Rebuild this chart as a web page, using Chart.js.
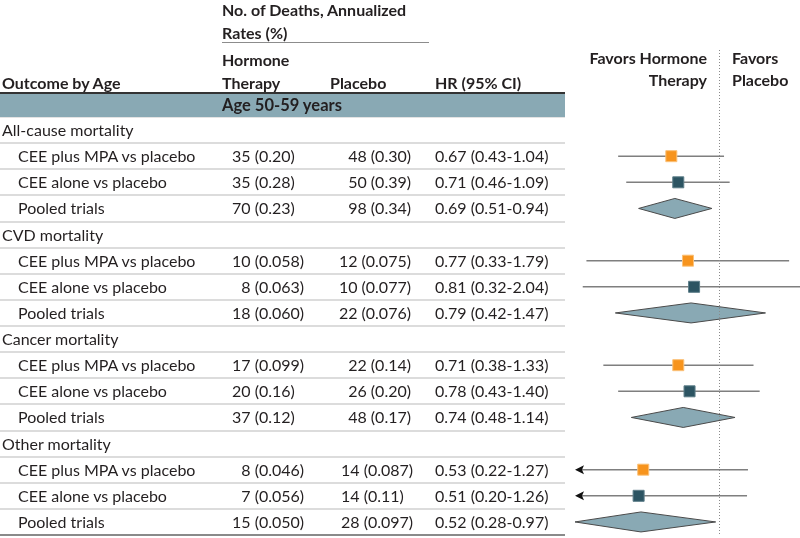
<!DOCTYPE html>
<html>
<head>
<meta charset="utf-8">
<script src="https://cdn.jsdelivr.net/npm/chart.js@4.4.0/dist/chart.umd.min.js"></script>
<style>
  html, body { margin: 0; padding: 0; background: #fff; overflow: hidden; }
  #wrap { position: relative; width: 800px; height: 538px; font-family: 'Lato', 'Noto Sans', sans-serif; color: #231f20; font-size: 16px; }
  #wrap canvas { position: absolute; left: 0; top: 0; }
  .t { position: absolute; white-space: pre; height: 26px; line-height: 26px; }
  .b { font-weight: 700; }
  .band { font-weight: 700; font-size: 16.5px; }
  .hl { position: absolute; left: 0; width: 565px; }
</style>
</head>
<body>
<div id="wrap">
  <div id="table"></div>
  <canvas id="c" width="800" height="538"></canvas>
  <div id="text"></div>
</div>
<script>
// ---------------- data ----------------
const ageGroup = "Age 50-59 years";
const sections = ["All-cause mortality", "CVD mortality", "Cancer mortality", "Other mortality"];
const comparisons = ["CEE plus MPA vs placebo", "CEE alone vs placebo", "Pooled trials"];
const hormoneDeaths = [35, 35, 70, 10, 8, 18, 17, 20, 37, 8, 7, 15];
const hormoneRates = ["0.20", "0.28", "0.23", "0.058", "0.063", "0.060", "0.099", "0.16", "0.12", "0.046", "0.056", "0.050"];
const placeboDeaths = [48, 50, 98, 12, 10, 22, 22, 26, 48, 14, 14, 28];
const placeboRates = ["0.30", "0.39", "0.34", "0.075", "0.077", "0.076", "0.14", "0.20", "0.17", "0.087", "0.11", "0.097"];
const hr = [0.67, 0.71, 0.69, 0.77, 0.81, 0.79, 0.71, 0.78, 0.74, 0.53, 0.51, 0.52];
const ciLow = [0.43, 0.46, 0.51, 0.33, 0.32, 0.42, 0.38, 0.43, 0.48, 0.22, 0.20, 0.28];
const ciHigh = [1.04, 1.09, 0.94, 1.79, 2.04, 1.47, 1.33, 1.40, 1.14, 1.27, 1.26, 0.97];
const headerGroup = ["No. of Deaths, Annualized", "Rates (%)"];
const colHeaders = ["Outcome by Age", "Hormone\nTherapy", "Placebo", "HR (95% CI)"];
const favorsLeft = ["Favors Hormone", "Therapy"];
const favorsRight = ["Favors", "Placebo"];

// ---------------- layout ----------------
const TOP = 117, BOTTOM = 535, NROWS = sections.length * (comparisons.length + 1);
const ROWH = (BOTTOM - TOP) / NROWS;
const ORANGE = '#f7941d', TEAL = '#2c5462', DIAMOND = '#89a9b4';

const dataRowIndex = [];
sections.forEach((s, si) => comparisons.forEach((c, ci) => dataRowIndex.push(si * (comparisons.length + 1) + 1 + ci)));

const textDiv = document.getElementById('text');
const tableDiv = document.getElementById('table');
function addText(str, x, cy, cls, align) {
  const d = document.createElement('div');
  d.className = 't ' + (cls || '');
  d.textContent = str;
  d.style.top = (cy - 13) + 'px';
  if (align === 'right') { d.style.right = (800 - x) + 'px'; d.style.textAlign = 'right'; }
  else d.style.left = x + 'px';
  textDiv.appendChild(d);
}
function addLine(y, h, color, x0, x1) {
  const d = document.createElement('div');
  d.className = 'hl';
  d.style.top = y + 'px'; d.style.height = h + 'px'; d.style.background = color;
  d.style.left = x0 + 'px'; d.style.width = (x1 - x0) + 'px';
  tableDiv.appendChild(d);
}
const rowCenter = i => TOP + ROWH * (i + 0.5);

// header
addText(headerGroup[0], 222, 10, 'b');
addText(headerGroup[1], 222, 33, 'b');
addLine(42, 1, '#8c8c8c', 222, 429);
addText(colHeaders[0], 2, 83, 'b');
const hth = colHeaders[1].split('\n');
addText(hth[0], 222, 60, 'b');
addText(hth[1], 222, 83, 'b');
addText(colHeaders[2], 330, 83, 'b');
addText(colHeaders[3], 435, 83, 'b');
addText(favorsLeft[0], 707, 58, 'b', 'right');
addText(favorsLeft[1], 707, 80, 'b', 'right');
addText(favorsRight[0], 732, 58, 'b');
addText(favorsRight[1], 732, 80, 'b');

// band
addLine(92, 1.5, '#333', 0, 565);
addLine(93.5, 23.5, DIAMOND, 0, 565);
addLine(117, 1, '#e3e3e3', 0, 565);
addText(ageGroup, 222, 105, 'band');

// row separators
for (let i = 1; i < NROWS; i++) addLine(Math.round(TOP + ROWH * i) - 1, 1.5, '#dcdcdc', 0, 565);
addLine(BOTTOM - 1, 2, '#8a8a8a', 0, 565);

// table body
const FS = '\u2007';
sections.forEach((s, si) => {
  const ri = si * (comparisons.length + 1);
  addText(s, 2, rowCenter(ri));
  comparisons.forEach((c, ci) => {
    const k = si * comparisons.length + ci;
    const cy = rowCenter(ri + 1 + ci);
    addText(c, 18, cy);
    const hd = String(hormoneDeaths[k]);
    addText((hd.length < 2 ? FS : '') + hd + ' (' + hormoneRates[k] + ')', 232, cy);
    const ptxt = placeboDeaths[k] + ' (' + placeboRates[k] + ')';
    if (si === 3) addText(ptxt, 341, cy); else addText(ptxt, 411, cy, '', 'right');
    addText(hr[k].toFixed(2) + ' (' + ciLow[k].toFixed(2) + '-' + ciHigh[k].toFixed(2) + ')', 435, cy);
  });
});

// ---------------- chart ----------------
const ptsA = [], ptsB = [];
hr.forEach((v, k) => {
  const ci = k % comparisons.length;
  if (ci === 0) ptsA.push({ x: v, y: dataRowIndex[k] });
  else if (ci === 1) ptsB.push({ x: v, y: dataRowIndex[k] });
});

const forestPlugin = {
  id: 'forest',
  beforeDatasetsDraw(chart) {
    const { ctx, chartArea, scales: { x, y } } = chart;
    const L = chartArea.left, R = chartArea.right;
    ctx.save();
    hr.forEach((v, k) => {
      const ci = k % comparisons.length;
      const py = y.getPixelForValue(dataRowIndex[k]);
      let x0 = x.getPixelForValue(ciLow[k]), x1 = x.getPixelForValue(ciHigh[k]);
      const clipL = x0 < L;
      x0 = Math.max(x0, L); x1 = Math.min(x1, R);
      if (ci < 2) {
        ctx.strokeStyle = '#7f7f7f'; ctx.lineWidth = 1.5;
        ctx.beginPath(); ctx.moveTo(x0 + (clipL ? 4 : 0), py); ctx.lineTo(x1, py); ctx.stroke();
        if (clipL) {
          ctx.fillStyle = '#111';
          ctx.beginPath(); ctx.moveTo(L, py); ctx.lineTo(L + 9, py - 4.5); ctx.lineTo(L + 7, py); ctx.lineTo(L + 9, py + 4.5); ctx.closePath(); ctx.fill();
        }
      } else {
        const pc = x.getPixelForValue(v);
        ctx.fillStyle = DIAMOND; ctx.strokeStyle = '#4a4a4a'; ctx.lineWidth = 1;
        ctx.beginPath();
        ctx.moveTo(x0, py); ctx.lineTo(pc, py - 10); ctx.lineTo(x1, py); ctx.lineTo(pc, py + 10); ctx.closePath();
        ctx.fill(); ctx.stroke();
      }
    });
    ctx.restore();
  },
  afterDatasetsDraw(chart) {
    const { ctx, scales: { x } } = chart;
    const px = Math.round(x.getPixelForValue(1)) + 0.5;
    ctx.save();
    ctx.strokeStyle = '#8a8a8a'; ctx.lineWidth = 1; ctx.setLineDash([1, 2]);
    ctx.beginPath(); ctx.moveTo(px, 50); ctx.lineTo(px, BOTTOM); ctx.stroke();
    ctx.restore();
  }
};

new Chart(document.getElementById('c'), {
  type: 'scatter',
  data: {
    datasets: [
      { label: comparisons[0], data: ptsA, pointStyle: 'rect', pointRadius: 7.8, pointHoverRadius: 7.8, backgroundColor: ORANGE, borderColor: '#fbc27a', borderWidth: 1 },
      { label: comparisons[1], data: ptsB, pointStyle: 'rect', pointRadius: 7.8, pointHoverRadius: 7.8, backgroundColor: TEAL, borderColor: '#5f7f8a', borderWidth: 1 }
    ]
  },
  options: {
    responsive: false,
    animation: false,
    events: [],
    layout: { autoPadding: false, padding: { left: 575, right: 0, top: TOP, bottom: 538 - BOTTOM } },
    plugins: { legend: { display: false }, tooltip: { enabled: false } },
    scales: {
      x: { type: 'logarithmic', min: 0.3, max: 1.96, display: false },
      y: { type: 'linear', min: -0.5, max: NROWS - 0.5, reverse: true, display: false }
    }
  },
  plugins: [forestPlugin]
});
</script>
</body>
</html>
